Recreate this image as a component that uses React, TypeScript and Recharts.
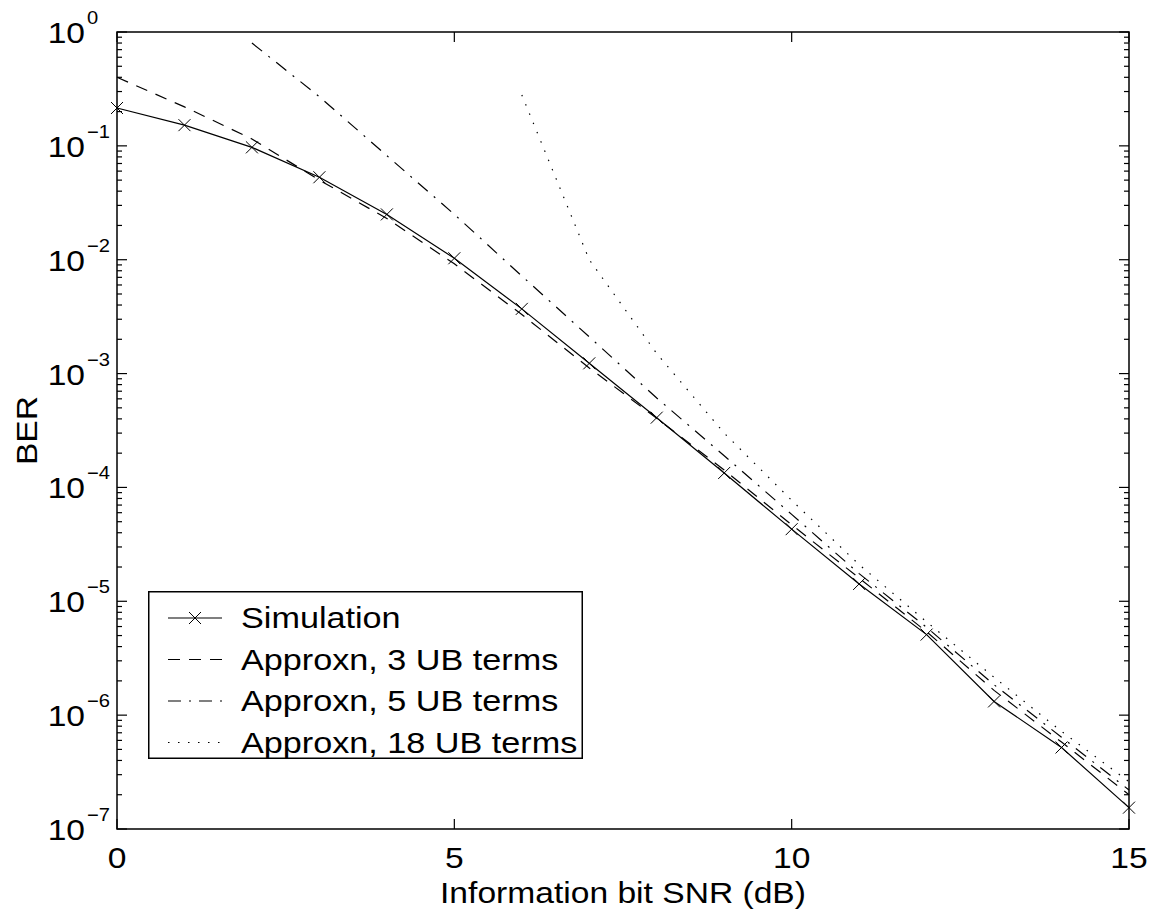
import { Legend, Line, LineChart, ReferenceArea, XAxis, YAxis } from 'recharts'

// Eb/N0 in dB and bit error rates
const SNR_DB = [0, 1, 2, 3, 4, 5, 6, 7, 8, 9, 10, 11, 12, 13, 14, 15]
const SIMULATION = [0.215, 0.152, 0.097, 0.053, 0.025, 0.0103, 0.0037, 0.00123, 4.1e-4, 1.34e-4, 4.3e-5, 1.42e-5, 5.1e-6, 1.32e-6, 5.2e-7, 1.54e-7]
const UB3 = [0.4, 0.22, 0.115, 0.05, 0.023, 0.0092, 0.0033, 0.00112, 4.05e-4, 1.42e-4, 4.7e-5, 1.6e-5, 5.4e-6, 1.65e-6, 5.8e-7, 2.0e-7]
const UB5 = [null, null, 0.8, 0.27, 0.082, 0.025, 0.0072, 0.0021, 6.1e-4, 1.9e-4, 5.8e-5, 1.75e-5, 5.9e-6, 1.85e-6, 6.4e-7, 2.2e-7]
const UB18 = [null, null, null, null, null, null, 0.28, 0.01, 0.0015, 3.0e-4, 7.7e-5, 2.1e-5, 6.6e-6, 2.15e-6, 7.2e-7, 2.6e-7]

const SERIES_NAMES = ['Simulation', 'Approxn, 3 UB terms', 'Approxn, 5 UB terms', 'Approxn, 18 UB terms']
const X_TICKS = [0, 5, 10, 15]
const DECADES = [-7, -6, -5, -4, -3, -2, -1, 0]

const Y_TICKS: number[] = []
DECADES.forEach((d) => {
  if (d === 0) {
    Y_TICKS.push(1)
    return
  }
  for (let m = 1; m <= 9; m++) Y_TICKS.push(m * Math.pow(10, d))
})

const rows = SNR_DB.map((snr, i) => ({
  snr,
  sim: SIMULATION[i],
  ub3: UB3[i],
  ub5: UB5[i] ?? undefined,
  ub18: UB18[i] ?? undefined,
}))

const W = 1140
const H = 908
const PLOT_LEFT = 109
const PLOT_TOP = 24
const PLOT_RIGHT = 1121
const PLOT_BOTTOM = 821

const FONT = '"Liberation Sans", Arial, Helvetica, sans-serif'
const STRETCH = 1.12

const STYLES = [
  { dash: undefined, marker: true },
  { dash: '12 9', marker: false },
  { dash: '13 8 2 8', marker: false },
  { dash: '1.5 8.5', marker: false },
]

function Cross({ cx, cy }: { cx?: number; cy?: number }) {
  if (cx == null || cy == null) return null
  const r = 6
  return (
    <g stroke="#000" strokeWidth={1}>
      <line x1={cx - r} y1={cy - r} x2={cx + r} y2={cy + r} />
      <line x1={cx - r} y1={cy + r} x2={cx + r} y2={cy - r} />
    </g>
  )
}

function XTick({ x, payload }: any) {
  return (
    <g>
      <line x1={x} x2={x} y1={PLOT_BOTTOM} y2={PLOT_BOTTOM - 10} stroke="#000" strokeWidth={1.2} />
      <line x1={x} x2={x} y1={PLOT_TOP} y2={PLOT_TOP + 10} stroke="#000" strokeWidth={1.2} />
      <text
        transform={`translate(${x},${PLOT_BOTTOM + 39}) scale(${STRETCH},1)`}
        textAnchor="middle"
        fontSize={30}
        fontFamily={FONT}
        fill="#000"
      >
        {payload.value}
      </text>
    </g>
  )
}

function YTick({ y, payload }: any) {
  const e = Math.log10(payload.value)
  const major = Math.abs(e - Math.round(e)) < 1e-6
  const len = major ? 10 : 5
  const exp = Math.round(e)
  return (
    <g>
      <line x1={PLOT_LEFT} x2={PLOT_LEFT + len} y1={y} y2={y} stroke="#000" strokeWidth={1.2} />
      <line x1={PLOT_RIGHT} x2={PLOT_RIGHT - len} y1={y} y2={y} stroke="#000" strokeWidth={1.2} />
      {major && (
        <g fontFamily={FONT} fill="#000">
          <text transform={`translate(${PLOT_LEFT - 32},${y + 11}) scale(${STRETCH},1)`} textAnchor="end" fontSize={30}>
            10
          </text>
          <text transform={`translate(${PLOT_LEFT - 30},${y - 8}) scale(${STRETCH},1)`} fontSize={18}>
            {exp === 0 ? '0' : `\u2212${Math.abs(exp)}`}
          </text>
        </g>
      )}
    </g>
  )
}

function XTitle() {
  return (
    <text
      transform={`translate(${(PLOT_LEFT + PLOT_RIGHT) / 2},${H - 13}) scale(${STRETCH},1)`}
      textAnchor="middle"
      fontSize={30}
      fontFamily={FONT}
      fill="#000"
    >
      Information bit SNR (dB)
    </text>
  )
}

function YTitle() {
  return (
    <text
      transform={`translate(29,${(PLOT_TOP + PLOT_BOTTOM) / 2}) rotate(-90) scale(${STRETCH},1)`}
      textAnchor="middle"
      fontSize={30}
      fontFamily={FONT}
      fill="#000"
    >
      BER
    </text>
  )
}

function LegendBox() {
  return (
    <svg width={435} height={180} style={{ display: 'block', overflow: 'visible' }}>
      <rect x={0.75} y={0.75} width={433.5} height={166.5} fill="#fff" stroke="#000" strokeWidth={1.5} />
      {SERIES_NAMES.map((name, i) => {
        const cy = 27 + i * 41.5
        const s = STYLES[i]
        return (
          <g key={name}>
            <line x1={20} x2={74} y1={cy} y2={cy} stroke="#000" strokeWidth={1.2} strokeDasharray={s.dash} />
            {s.marker && <Cross cx={47} cy={cy} />}
            <text
              transform={`translate(93,${cy + 10}) scale(1.14,1)`}
              fontSize={30}
              fontFamily={FONT}
              fill="#000"
            >
              {name}
            </text>
          </g>
        )
      })}
    </svg>
  )
}

export default function App() {
  return (
    <LineChart width={W} height={H} data={rows} margin={{ top: PLOT_TOP, right: W - PLOT_RIGHT, bottom: 8, left: 0 }}>
      <XAxis
        dataKey="snr"
        type="number"
        domain={[0, 15]}
        ticks={X_TICKS}
        interval={0}
        height={H - 8 - PLOT_BOTTOM}
        axisLine={false}
        tickLine={false}
        tick={<XTick />}
        label={<XTitle />}
      />
      <YAxis
        type="number"
        scale="log"
        domain={[1e-7, 1]}
        allowDataOverflow
        ticks={Y_TICKS}
        interval={0}
        width={PLOT_LEFT}
        axisLine={false}
        tickLine={false}
        tick={<YTick />}
        label={<YTitle />}
      />
      <ReferenceArea x1={0} x2={15} y1={1e-7} y2={1} fill="none" stroke="#000" strokeWidth={1.5} />
      <Line
        dataKey="sim"
        stroke="#000"
        strokeWidth={1.2}
        dot={(p: any) => <Cross key={`m${p.index}`} cx={p.cx} cy={p.cy} />}
        isAnimationActive={false}
      />
      <Line dataKey="ub3" stroke="#000" strokeWidth={1.2} strokeDasharray="12 9" dot={false} isAnimationActive={false} />
      <Line dataKey="ub5" stroke="#000" strokeWidth={1.2} strokeDasharray="13 8 2 8" dot={false} isAnimationActive={false} />
      <Line dataKey="ub18" stroke="#000" strokeWidth={1.2} strokeDasharray="1.5 8.5" dot={false} isAnimationActive={false} />
      <Legend
        layout="vertical"
        align="center"
        verticalAlign="middle"
        wrapperStyle={{ position: 'absolute', left: 140, top: 583, width: 435, height: 180 }}
        content={() => <LegendBox />}
      />
    </LineChart>
  )
}
